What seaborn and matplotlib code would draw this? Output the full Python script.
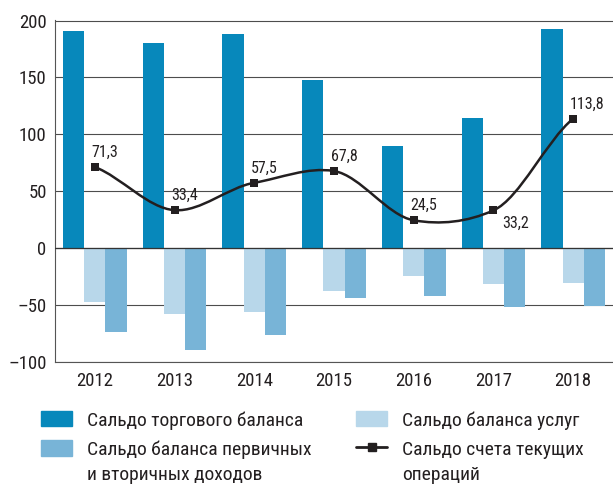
import matplotlib
matplotlib.use("Agg")
import matplotlib.pyplot as plt
import numpy as np
import pandas as pd
import seaborn as sns
from matplotlib import font_manager, ticker
from matplotlib.lines import Line2D
from matplotlib.patches import Patch, PathPatch
from matplotlib.path import Path

years = [2012, 2013, 2014, 2015, 2016, 2017, 2018]
trade = [191, 180, 188, 148, 90, 114, 193]
services = [-47, -58, -56, -37.5, -24, -31.5, -30.5]
income = [-73.5, -89.5, -76, -43.5, -42, -51.5, -50.5]
current = [71.3, 33.4, 57.5, 67.8, 24.5, 33.2, 113.8]

names = [
    "Сальдо торгового баланса",
    "Сальдо баланса услуг",
    "Сальдо баланса первичных",
    "Сальдо счета текущих",
]
second_lines = ["и вторичных доходов", "операций"]
colors = ["#0788bb", "#b8d7ea", "#78b4d7"]
ink = "#231f20"

df = pd.DataFrame(
    {
        "year": years * 3,
        "series": [names[0]] * 7 + [names[1]] * 7 + [names[2]] * 7,
        "value": trade + services + income,
    }
)

# pick a narrow face if one is installed, otherwise shrink Roboto
family, scale = "Roboto", 0.88
for cand in ["Roboto Condensed", "Liberation Sans Narrow"]:
    try:
        font_manager.findfont(font_manager.FontProperties(family=cand),
                              fallback_to_default=False)
        family, scale = cand, 1.0
        break
    except ValueError:
        pass

sns.set_style("white")
plt.rcParams["font.family"] = [family, "DejaVu Sans"]
plt.rcParams["text.color"] = ink

fig = plt.figure(figsize=(6.13, 4.84), dpi=100)
ax = fig.add_axes([55 / 613, 1 - 362 / 484, 558 / 613, 342 / 484])

sns.barplot(
    data=df, x="year", y="value", hue="series", hue_order=names[:3],
    palette=colors, native_scale=True, width=0.8, saturation=1,
    linewidth=0, legend=False, ax=ax, zorder=2,
)

# smooth line: cardinal spline drawn as bezier segments
xs = np.array(years, dtype=float)
ys = np.array(current)
k = 0.7
m = np.zeros_like(ys)
m[1:-1] = k * (ys[2:] - ys[:-2]) / 2
m[0] = k * (ys[1] - ys[0])
m[-1] = k * (ys[-1] - ys[-2])
verts = [(xs[0], ys[0])]
codes = [Path.MOVETO]
for i in range(len(xs) - 1):
    verts += [
        (xs[i] + 1 / 3, ys[i] + m[i] / 3),
        (xs[i + 1] - 1 / 3, ys[i + 1] - m[i + 1] / 3),
        (xs[i + 1], ys[i + 1]),
    ]
    codes += [Path.CURVE4] * 3
ax.add_patch(PathPatch(Path(verts, codes), fill=False, ec=ink, lw=1.8, zorder=4))
sns.scatterplot(x=years, y=current, marker="s", s=38, color=ink,
                linewidth=0, ax=ax, zorder=5)

for yr, v in zip(years, current):
    off = (9, -17) if yr == 2017 else (-3, 10)
    ax.annotate(f"{v:.1f}".replace(".", ","), (yr, v), xytext=off,
                textcoords="offset pixels", ha="left", va="baseline",
                fontsize=11.5 * scale, color=ink, zorder=6)

ax.set_xlim(2011.5, 2018.5)
ax.set_ylim(-100, 200.5)
ax.yaxis.set_major_locator(ticker.FixedLocator([-100, -50, 0, 50, 100, 150, 200]))
ax.yaxis.set_major_formatter(ticker.FuncFormatter(lambda v, p: f"{v:.0f}".replace("-", "\u2013")))
ax.xaxis.set_major_locator(ticker.FixedLocator(years))
ax.xaxis.set_major_formatter(ticker.FuncFormatter(lambda v, p: f"{v:.0f}"))
ax.xaxis.set_minor_locator(ticker.FixedLocator([y + 0.5 for y in years[:-1]]))
ax.tick_params(axis="x", which="major", length=0, pad=7, labelsize=13.5 * scale, labelcolor=ink)
ax.tick_params(axis="x", which="minor", length=3.5, width=0.8, color="#555555", direction="out")
ax.tick_params(axis="y", length=0, pad=6, labelsize=13.5 * scale, labelcolor=ink)
ax.set_xlabel("")
ax.set_ylabel("")

ax.grid(axis="y", color="#4d4d4d", lw=0.8, zorder=1)
ax.grid(axis="x", visible=False)
ax.axhline(0, color="#333333", lw=0.9, zorder=3)
for s in ["top", "right"]:
    ax.spines[s].set_visible(False)
for s in ["left", "bottom"]:
    ax.spines[s].set_color("#555555")
    ax.spines[s].set_linewidth(0.8)

handles = [
    Patch(color=colors[0]),
    Patch(color=colors[2]),
    Patch(color=colors[1]),
    Line2D([], [], color=ink, lw=2, marker="s", markersize=6),
]
fs = 14 * scale
px = fs * 100 / 72
leg = fig.legend(
    handles, [names[0], names[2], names[1], names[3]], ncol=2,
    loc="upper left", bbox_to_anchor=(41 / 613, 1 - 411 / 484),
    frameon=False, fontsize=fs, borderpad=0, borderaxespad=0,
    handlelength=31 / px, handleheight=16 / px,
    handletextpad=15 / px, labelspacing=0.55,
    columnspacing=2.3,
)
for t in leg.get_texts():
    t.set_color(ink)

# continuation lines of the two-line labels
fig.canvas.draw()
for t, extra in zip([leg.get_texts()[1], leg.get_texts()[3]], second_lines):
    bb = t.get_window_extent()
    fig.text(bb.x0 / 613, (bb.y0 - 25) / 484, extra, fontsize=fs,
             color=ink, ha="left", va="bottom")

fig.savefig("out.png", dpi=100)
